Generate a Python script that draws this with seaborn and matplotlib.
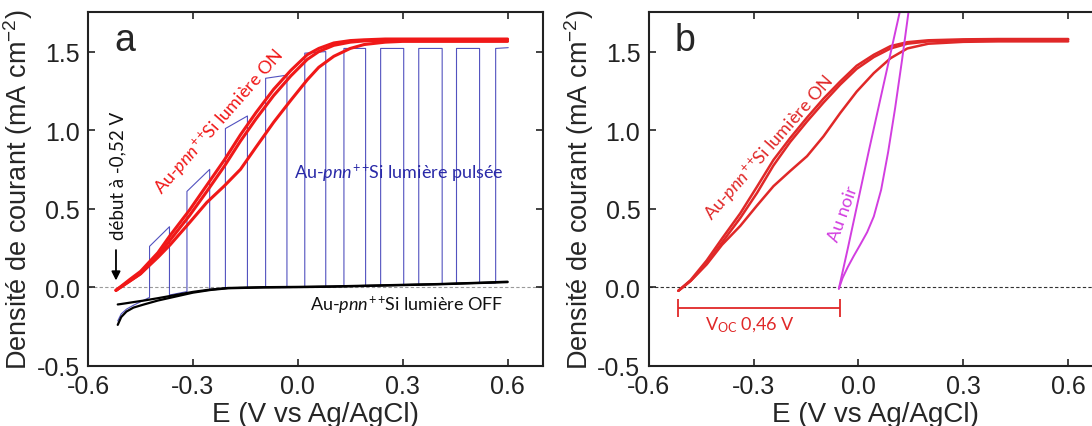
import matplotlib
matplotlib.use("Agg")
import matplotlib.pyplot as plt
import numpy as np
import pandas as pd
import seaborn as sns

# %% data
# panel a, light ON (three scans)
E_on_a = [-0.52, -0.48, -0.45, -0.40, -0.365, -0.31, -0.26, -0.21, -0.164, -0.12, -0.069,
          -0.02, 0.027, 0.06, 0.103, 0.15, 0.19, 0.25, 0.30, 0.40, 0.50, 0.60]
on_a_up1 = [-0.02, 0.05, 0.10, 0.22, 0.33, 0.49, 0.65, 0.81, 0.97, 1.11, 1.26,
            1.38, 1.48, 1.52, 1.555, 1.57, 1.575, 1.58, 1.58, 1.58, 1.58, 1.58]
on_a_up2 = [-0.02, 0.04, 0.085, 0.20, 0.30, 0.455, 0.61, 0.77, 0.93, 1.07, 1.22,
            1.345, 1.45, 1.50, 1.54, 1.56, 1.568, 1.572, 1.575, 1.575, 1.575, 1.575]
on_a_down = [-0.02, 0.04, 0.085, 0.19, 0.27, 0.41, 0.54, 0.645, 0.75, 0.89, 1.05,
             1.19, 1.32, 1.40, 1.47, 1.52, 1.545, 1.56, 1.565, 1.565, 1.565, 1.565]

# panel a, light OFF (two scans)
E_off = [-0.515, -0.505, -0.49, -0.47, -0.44, -0.40, -0.35, -0.30, -0.25, -0.20,
         -0.10, 0.0, 0.1, 0.2, 0.3, 0.4, 0.5, 0.6]
off_up = [-0.11, -0.107, -0.102, -0.095, -0.085, -0.07, -0.05, -0.03, -0.015, -0.005,
          0.0, 0.002, 0.005, 0.01, 0.015, 0.02, 0.027, 0.035]
off_down = [-0.24, -0.19, -0.155, -0.13, -0.11, -0.085, -0.06, -0.035, -0.018, -0.007,
            -0.002, 0.0, 0.003, 0.008, 0.013, 0.018, 0.025, 0.032]

# panel a, chopped light
pulse_on = [-0.424, -0.317, -0.207, -0.092, 0.020, 0.132, 0.237, 0.346, 0.454, 0.566]
pulse_off = [-0.367, -0.252, -0.144, -0.031, 0.080, 0.194, 0.303, 0.413, 0.520, 0.602]
pulse_top_on = [0.26, 0.61, 1.01, 1.33, 1.49, 1.52, 1.52, 1.52, 1.52, 1.52]
pulse_top_off = [0.385, 0.75, 1.09, 1.35, 1.50, 1.52, 1.52, 1.52, 1.52, 1.525]
pulse_dark_on = [-0.065, -0.028, -0.007, 0.0, 0.002, 0.006, 0.009, 0.014, 0.019, 0.027]
pulse_dark_off = [-0.05, -0.016, -0.003, 0.001, 0.004, 0.008, 0.012, 0.017, 0.024, 0.03]
pulse_start_E = [-0.515, -0.505, -0.49, -0.47]
pulse_start_j = [-0.215, -0.17, -0.14, -0.115]

# panel b, light ON
E_on_b = [-0.515, -0.48, -0.434, -0.39, -0.338, -0.29, -0.243, -0.195, -0.147, -0.10,
          -0.052, -0.005, 0.044, 0.092, 0.14, 0.20, 0.30, 0.40, 0.50, 0.60]
on_b_up1 = [-0.023, 0.045, 0.17, 0.31, 0.47, 0.64, 0.81, 0.95, 1.08, 1.20,
            1.31, 1.41, 1.48, 1.535, 1.56, 1.572, 1.578, 1.58, 1.58, 1.58]
on_b_up2 = [-0.023, 0.04, 0.15, 0.285, 0.44, 0.60, 0.775, 0.925, 1.055, 1.175,
            1.29, 1.39, 1.465, 1.52, 1.55, 1.565, 1.572, 1.575, 1.575, 1.575]
on_b_down = [-0.023, 0.04, 0.145, 0.27, 0.39, 0.52, 0.643, 0.74, 0.834, 0.96,
             1.109, 1.245, 1.363, 1.458, 1.52, 1.55, 1.562, 1.565, 1.565, 1.565]

# panel b, gold black (two branches)
E_noir_1 = [-0.056, -0.03, 0.0, 0.03, 0.06, 0.09, 0.12]
noir_1 = [-0.01, 0.25, 0.56, 0.87, 1.17, 1.47, 1.77]
E_noir_2 = [-0.056, -0.045, -0.03, -0.013, 0.005, 0.025, 0.044, 0.065, 0.085, 0.105, 0.125, 0.145]
noir_2 = [-0.01, 0.06, 0.13, 0.20, 0.27, 0.35, 0.45, 0.62, 0.86, 1.14, 1.45, 1.78]

voc_start, voc_end = -0.515, -0.054

# %% style
sns.set_style("ticks")
plt.rcParams["font.family"] = ["Liberation Sans", "DejaVu Sans"]
plt.rcParams["mathtext.fontset"] = "custom"
plt.rcParams["mathtext.rm"] = "Lato"
plt.rcParams["mathtext.it"] = "Lato:italic"

RED = "#f01818"
RED_B = "#e02828"
BLUE = "#3434b4"
MAG = "#d23ee0"
ANN = "Lato"
PNN = "Au-$\\mathit{pnn}^{\\mathregular{++}}\\!$Si"

fig = plt.figure(figsize=(10.92, 4.27), dpi=100)
ax_a = fig.add_axes([0.0806, 0.1412, 0.4162, 0.8276])
ax_b = fig.add_axes([0.594, 0.1412, 0.4162, 0.8276])


def style_axes(ax, letter, zero_color):
    ax.set_xlim(-0.6, 0.7)
    ax.set_ylim(-0.5, 1.75)
    ax.set_xticks([-0.6, -0.3, 0.0, 0.3, 0.6])
    ax.set_yticks([-0.5, 0.0, 0.5, 1.0, 1.5])
    ax.xaxis.set_major_formatter(matplotlib.ticker.FormatStrFormatter("%.1f"))
    ax.yaxis.set_major_formatter(matplotlib.ticker.FormatStrFormatter("%.1f"))
    ax.tick_params(direction="in", top=True, right=True, length=5, width=1.2,
                   labelsize=18, pad=6, colors="#222222")
    for s in ax.spines.values():
        s.set_linewidth(1.5)
        s.set_color("#222222")
    ax.axhline(0, color=zero_color, lw=0.8, ls=(0, (3, 2)), zorder=0)
    ax.set_xlabel("E (V vs Ag/AgCl)", fontsize=20, labelpad=2)
    ax.set_ylabel("Densité de courant (mA cm$^{\\mathregular{-2}}$)", fontsize=19.5, labelpad=1)
    ax.text(-0.525, 1.51, letter, fontsize=27, ha="left", va="baseline")


# %% panel a
style_axes(ax_a, "a", "#9a9a9a")

# chopped light path
bx, by = list(pulse_start_E), list(pulse_start_j)
for i in range(len(pulse_on)):
    bx += [pulse_on[i], pulse_on[i], pulse_off[i]]
    by += [pulse_dark_on[i], pulse_top_on[i], pulse_top_off[i]]
    if i < len(pulse_on) - 1:
        bx.append(pulse_off[i])
        by.append(pulse_dark_off[i])
sns.lineplot(x=bx, y=by, sort=False, estimator=None, color=BLUE, lw=0.8, alpha=0.85, ax=ax_a)

sns.lineplot(x=E_off, y=off_up, sort=False, estimator=None, color="black", lw=1.6, ax=ax_a)
sns.lineplot(x=E_off, y=off_down, sort=False, estimator=None, color="black", lw=1.6, ax=ax_a)

for trace in (on_a_up1, on_a_up2, on_a_down):
    sns.lineplot(x=E_on_a, y=trace, sort=False, estimator=None, color=RED, lw=2.2, ax=ax_a)

ax_a.text(-0.225, 1.06, PNN + " lumière ON", color=RED,
          family=ANN, fontsize=13, rotation=48.7, rotation_mode="anchor",
          ha="center", va="center")
ax_a.text(0.588, 0.73, PNN + " lumière pulsée", color="#2a2aa8",
          family=ANN, fontsize=13, ha="right", va="center")
ax_a.text(0.588, -0.11, PNN + " lumière OFF", color="#111111",
          family=ANN, fontsize=13, ha="right", va="center")
ax_a.text(-0.514, 0.715, "début à -0,52 V", color="#111111", family=ANN, fontsize=13.5,
          rotation=90, ha="center", va="center")
ax_a.annotate("", xy=(-0.52, 0.025), xytext=(-0.52, 0.254),
              arrowprops=dict(arrowstyle="-|>", color="black", lw=1.3, mutation_scale=13))

# %% panel b
style_axes(ax_b, "b", "#333333")

for trace in (on_b_up1, on_b_up2, on_b_down):
    sns.lineplot(x=E_on_b, y=trace, sort=False, estimator=None, color=RED_B, lw=1.8, ax=ax_b)
sns.lineplot(x=E_noir_1, y=noir_1, sort=False, estimator=None, color=MAG, lw=1.4, ax=ax_b)
sns.lineplot(x=E_noir_2, y=noir_2, sort=False, estimator=None, color=MAG, lw=1.4, ax=ax_b)

ax_b.hlines(-0.135, voc_start, voc_end, color=RED_B, lw=1.3)
ax_b.vlines([voc_start, voc_end], -0.19, -0.075, color=RED_B, lw=1.3)
ax_b.text(-0.31, -0.235, "V$_{\\mathregular{OC}}$ 0,46 V", color=RED_B, family=ANN,
          fontsize=13, ha="center", va="center")
ax_b.text(-0.255, 0.892, PNN + " lumière ON", color=RED_B,
          family=ANN, fontsize=13, rotation=48.7, rotation_mode="anchor",
          ha="center", va="center")
ax_b.text(-0.043, 0.473, "Au noir", color=MAG, family=ANN, fontsize=13, rotation=70,
          rotation_mode="anchor", ha="center", va="center")

fig.savefig("out.png", dpi=100)
